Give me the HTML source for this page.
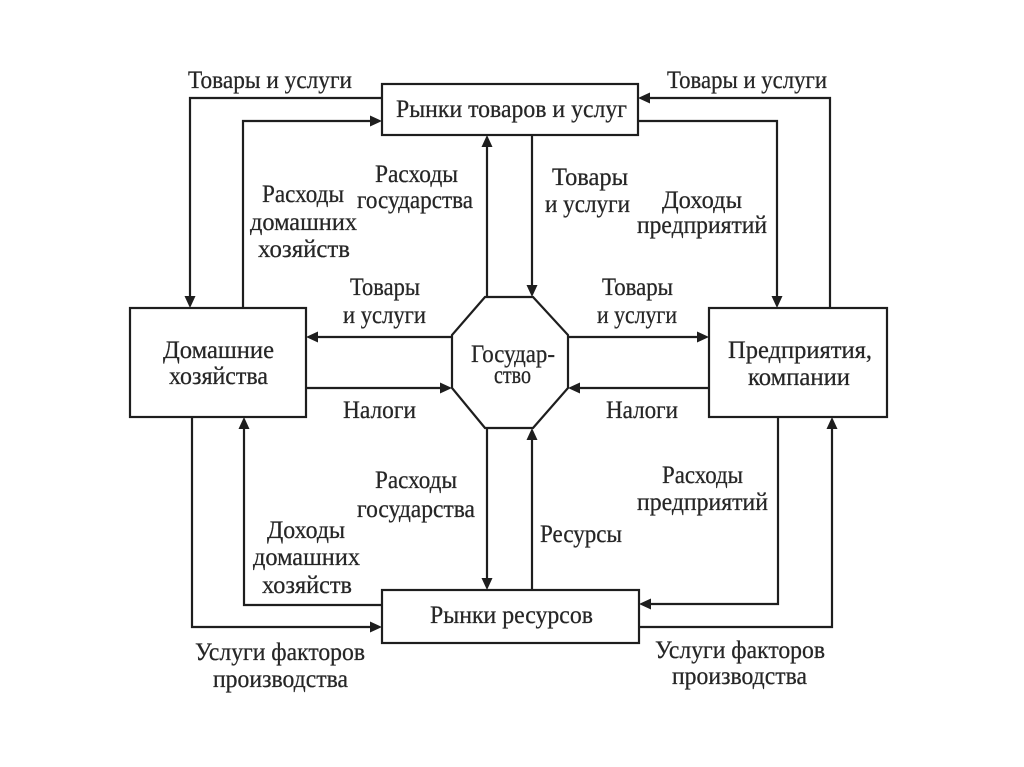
<!DOCTYPE html>
<html>
<head>
<meta charset="utf-8">
<style>
  html, body { margin: 0; padding: 0; background: #ffffff; }
  body { width: 1024px; height: 767px; overflow: hidden; }
  svg { display: block; }
  text { font-family: "Liberation Serif", "Noto Serif CJK SC", serif; font-size: 25px; fill: #262626; stroke: #262626; stroke-width: 0.25; }
</style>
</head>
<body>
<svg width="1024" height="767" viewBox="0 0 1024 767" xmlns="http://www.w3.org/2000/svg">
  <rect x="0" y="0" width="1024" height="767" fill="#ffffff"/>
  <g fill="none" stroke="#1e1e1e" stroke-width="2.2">
    <rect x="382" y="84" width="256" height="51"/>
    <rect x="130" y="308" width="176" height="109"/>
    <rect x="709" y="308" width="178" height="109"/>
    <rect x="382" y="590" width="257" height="53"/>
    <polygon points="485,297 533,297 568,335 568,388 533,428 485,428 452,388 452,335"/>

    <polyline points="382,98 190,98 190,298"/>
    <polyline points="243,308 243,121 372,121"/>
    <polyline points="830,308 830,98 648,98"/>
    <polyline points="638,121 777,121 777,298"/>
    <line x1="487" y1="297" x2="487" y2="145"/>
    <line x1="532" y1="135" x2="532" y2="287"/>
    <line x1="452" y1="337" x2="316" y2="337"/>
    <line x1="306" y1="388" x2="442" y2="388"/>
    <line x1="568" y1="337" x2="699" y2="337"/>
    <line x1="709" y1="388" x2="578" y2="388"/>
    <line x1="487" y1="428" x2="487" y2="580"/>
    <line x1="532" y1="590" x2="532" y2="438"/>
    <polyline points="192,417 192,627 372,627"/>
    <polyline points="382,605 244,605 244,427"/>
    <polyline points="778,417 778,604 649,604"/>
    <polyline points="639,627 832,627 832,427"/>
  </g>

  <g fill="#1e1e1e" stroke="none">
    <polygon points="190,308 184.5,296 195.5,296"/>
    <polygon points="382,121 370,115.5 370,126.5"/>
    <polygon points="638,98 650,92.5 650,103.5"/>
    <polygon points="777,308 771.5,296 782.5,296"/>
    <polygon points="487,135 481.5,147 492.5,147"/>
    <polygon points="532,297 526.5,285 537.5,285"/>
    <polygon points="306,337 318,331.5 318,342.5"/>
    <polygon points="452,388 440,382.5 440,393.5"/>
    <polygon points="709,337 697,331.5 697,342.5"/>
    <polygon points="568,388 580,382.5 580,393.5"/>
    <polygon points="487,590 481.5,578 492.5,578"/>
    <polygon points="532,428 526.5,440 537.5,440"/>
    <polygon points="382,627 370,621.5 370,632.5"/>
    <polygon points="244,417 238.5,429 249.5,429"/>
    <polygon points="639,604 651,598.5 651,609.5"/>
    <polygon points="832,417 826.5,429 837.5,429"/>
  </g>

  <g>
    <text x="188" y="88" textLength="164" lengthAdjust="spacingAndGlyphs">Товары и услуги</text>
    <text x="667" y="88" textLength="160" lengthAdjust="spacingAndGlyphs">Товары и услуги</text>
    <text x="396" y="117" textLength="231" lengthAdjust="spacingAndGlyphs">Рынки товаров и услуг</text>

    <text x="375" y="182" textLength="83" lengthAdjust="spacingAndGlyphs">Расходы</text>
    <text x="357" y="208" textLength="116" lengthAdjust="spacingAndGlyphs">государства</text>

    <text x="262" y="202" textLength="82" lengthAdjust="spacingAndGlyphs">Расходы</text>
    <text x="250" y="230" textLength="107" lengthAdjust="spacingAndGlyphs">домашних</text>
    <text x="258" y="257" textLength="92" lengthAdjust="spacingAndGlyphs">хозяйств</text>

    <text x="552" y="185" textLength="76" lengthAdjust="spacingAndGlyphs">Товары</text>
    <text x="545" y="212" textLength="85" lengthAdjust="spacingAndGlyphs">и услуги</text>

    <text x="662" y="208" textLength="80" lengthAdjust="spacingAndGlyphs">Доходы</text>
    <text x="637" y="233" textLength="130" lengthAdjust="spacingAndGlyphs">предприятий</text>

    <text x="350" y="295" textLength="70" lengthAdjust="spacingAndGlyphs">Товары</text>
    <text x="343" y="323" textLength="83" lengthAdjust="spacingAndGlyphs">и услуги</text>

    <text x="602" y="295" textLength="71" lengthAdjust="spacingAndGlyphs">Товары</text>
    <text x="597" y="323" textLength="80" lengthAdjust="spacingAndGlyphs">и услуги</text>

    <text x="163" y="358" textLength="111" lengthAdjust="spacingAndGlyphs">Домашние</text>
    <text x="169" y="384" textLength="99" lengthAdjust="spacingAndGlyphs">хозяйства</text>

    <text x="471" y="362" textLength="84" lengthAdjust="spacingAndGlyphs">Государ-</text>
    <text x="494" y="383" textLength="37" lengthAdjust="spacingAndGlyphs">ство</text>

    <text x="728" y="358" textLength="144" lengthAdjust="spacingAndGlyphs">Предприятия,</text>
    <text x="748" y="385" textLength="102" lengthAdjust="spacingAndGlyphs">компании</text>

    <text x="343" y="418" textLength="73" lengthAdjust="spacingAndGlyphs">Налоги</text>
    <text x="606" y="418" textLength="72" lengthAdjust="spacingAndGlyphs">Налоги</text>

    <text x="375" y="488" textLength="82" lengthAdjust="spacingAndGlyphs">Расходы</text>
    <text x="357" y="517" textLength="118" lengthAdjust="spacingAndGlyphs">государства</text>

    <text x="662" y="483" textLength="81" lengthAdjust="spacingAndGlyphs">Расходы</text>
    <text x="637" y="510" textLength="131" lengthAdjust="spacingAndGlyphs">предприятий</text>

    <text x="267" y="538" textLength="78" lengthAdjust="spacingAndGlyphs">Доходы</text>
    <text x="253" y="565" textLength="107" lengthAdjust="spacingAndGlyphs">домашних</text>
    <text x="262" y="593" textLength="90" lengthAdjust="spacingAndGlyphs">хозяйств</text>

    <text x="540" y="542" textLength="82" lengthAdjust="spacingAndGlyphs">Ресурсы</text>

    <text x="430" y="623" textLength="163" lengthAdjust="spacingAndGlyphs">Рынки ресурсов</text>

    <text x="195" y="660" textLength="170" lengthAdjust="spacingAndGlyphs">Услуги факторов</text>
    <text x="213" y="687" textLength="135" lengthAdjust="spacingAndGlyphs">производства</text>

    <text x="655" y="658" textLength="170" lengthAdjust="spacingAndGlyphs">Услуги факторов</text>
    <text x="672" y="684" textLength="135" lengthAdjust="spacingAndGlyphs">производства</text>
  </g>
</svg>
</body>
</html>
